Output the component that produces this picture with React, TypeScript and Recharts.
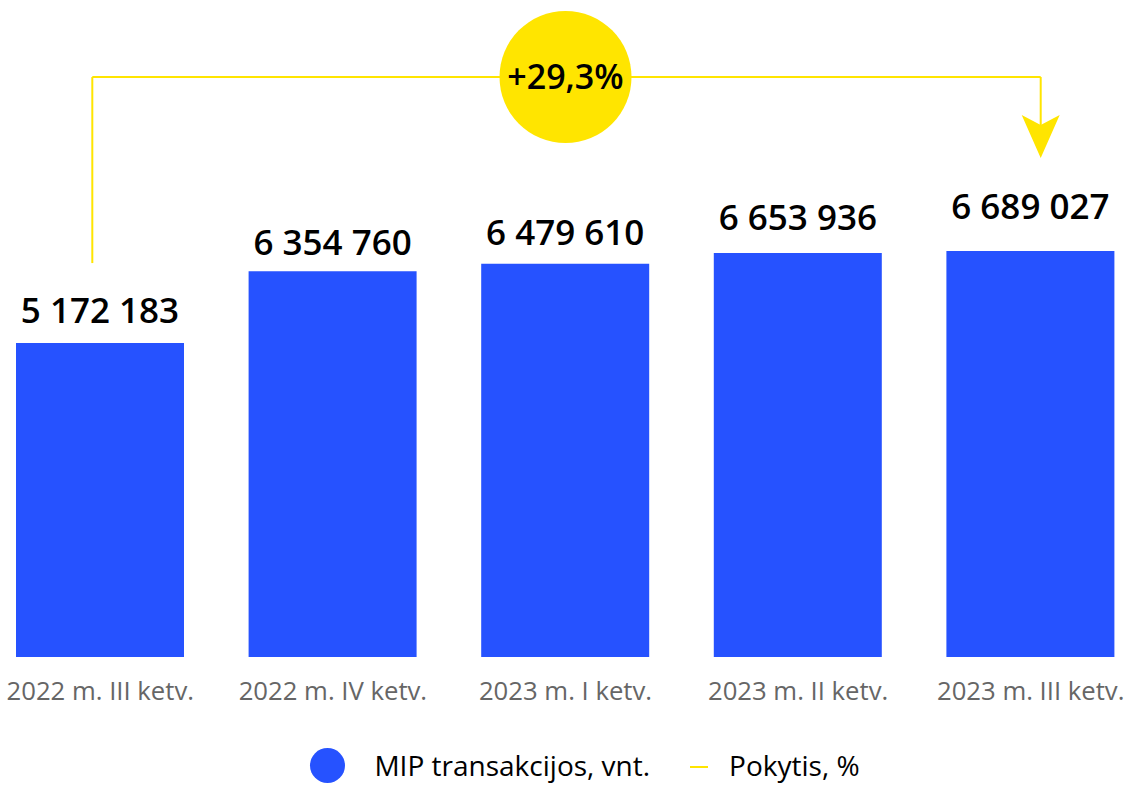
import { Bar, BarChart, LabelList, Legend, ReferenceDot, ReferenceLine, XAxis, YAxis } from 'recharts'

const quarters = [
  '2022 m. III ketv.',
  '2022 m. IV ketv.',
  '2023 m. I ketv.',
  '2023 m. II ketv.',
  '2023 m. III ketv.',
]
const transactions = [5172183, 6354760, 6479610, 6653936, 6689027]
const changeLabel = '+29,3%'
const seriesNames = ['MIP transakcijos, vnt.', 'Pokytis, %']

// bracket levels, in axis units
const bracketStart = 6490000
const bracketTop = 9555000
const arrowTip = 8220000

// gap between each bar top and its value label, px
const labelGaps = [20, 16, 19, 23, 32]

const BLUE = '#2652ff'
const YELLOW = '#ffe500'

const chartData = quarters.map((quarter, i) => ({
  quarter,
  value: transactions[i],
}))

const formatNumber = (v: number) =>
  String(v).replace(/\B(?=(\d{3})+(?!\d))/g, ' ')

const shifted = (dx1: number, dx2: number) => (props: any) => (
  <line
    x1={props.x1 + dx1}
    y1={props.y1}
    x2={props.x2 + dx2}
    y2={props.y2}
    stroke={YELLOW}
    strokeWidth={2}
  />
)

const ArrowHead = (props: any) => {
  const x = props.cx + 10
  const y = props.cy
  return (
    <polygon
      points={`${x},${y} ${x - 19},${y - 43} ${x},${y - 33} ${x + 19},${y - 43}`}
      fill={YELLOW}
    />
  )
}

const ValueLabel = (props: any) => {
  const { x, y, width, value, index } = props
  return (
    <text
      x={x + width / 2}
      y={y - labelGaps[index]}
      textAnchor='middle'
      fontSize={35}
      fontWeight={600}
      fill='#000'
    >
      {formatNumber(Number(value))}
    </text>
  )
}

const LegendContent = () => (
  <div
    style={{
      height: 68,
      display: 'flex',
      justifyContent: 'center',
      alignItems: 'flex-start',
      paddingTop: 30,
      paddingLeft: 39,
      boxSizing: 'border-box',
      fontSize: 28,
      lineHeight: '34px',
      color: '#000',
    }}
  >
    <div style={{ display: 'flex', alignItems: 'center', height: 36 }}>
      <span
        style={{
          width: 35,
          height: 35,
          borderRadius: '50%',
          background: BLUE,
          display: 'inline-block',
          marginRight: 29,
        }}
      />
      <span>{seriesNames[0]}</span>
      <span
        style={{
          width: 18,
          height: 2,
          background: YELLOW,
          display: 'inline-block',
          marginLeft: 40,
          marginRight: 21,
          marginTop: 4,
        }}
      />
      <span>{seriesNames[1]}</span>
    </div>
  </div>
)

export default function App() {
  const first = quarters[0]
  const last = quarters[quarters.length - 1]
  return (
    <div
      style={{
        position: 'absolute',
        left: 0,
        top: 0,
        width: 1126,
        height: 785,
        overflow: 'hidden',
        background: '#fff',
        fontFamily: '"Open Sans", sans-serif',
      }}
    >
      <div style={{ position: 'absolute', left: -16, top: 0 }}>
        <BarChart
          width={1163}
          height={785}
          data={chartData}
          margin={{ top: 50, right: 0, bottom: 0, left: 0 }}
          style={{ fontFamily: '"Open Sans", sans-serif' }}
        >
          <XAxis
            dataKey='quarter'
            tickLine={false}
            axisLine={false}
            tickMargin={19}
            height={60}
            tick={{ fill: '#666', fontSize: 25.7 }}
            interval={0}
          />
          <YAxis hide domain={[0, 10000000]} />
          <Legend verticalAlign='bottom' content={LegendContent} />
          <Bar dataKey='value' fill={BLUE} barSize={168} isAnimationActive={false}>
            <LabelList dataKey='value' content={ValueLabel} />
          </Bar>
          <ReferenceLine
            segment={[
              { x: first, y: bracketStart },
              { x: first, y: bracketTop },
            ]}
            shape={shifted(-8, -8)}
            ifOverflow='visible'
          />
          <ReferenceLine
            segment={[
              { x: first, y: bracketTop },
              { x: last, y: bracketTop },
            ]}
            shape={shifted(-8, 10)}
            ifOverflow='visible'
          />
          <ReferenceLine
            segment={[
              { x: last, y: bracketTop },
              { x: last, y: arrowTip + 540000 },
            ]}
            shape={shifted(10, 10)}
            ifOverflow='visible'
          />
          <ReferenceDot
            x={last}
            y={arrowTip}
            r={1}
            shape={ArrowHead}
            ifOverflow='visible'
          />
          <ReferenceDot
            x={quarters[2]}
            y={bracketTop}
            r={66}
            fill={YELLOW}
            stroke='none'
            ifOverflow='visible'
            label={{
              value: changeLabel,
              position: 'center',
              fontSize: 34,
              fontWeight: 600,
              fill: '#000',
            }}
          />
        </BarChart>
      </div>
    </div>
  )
}
